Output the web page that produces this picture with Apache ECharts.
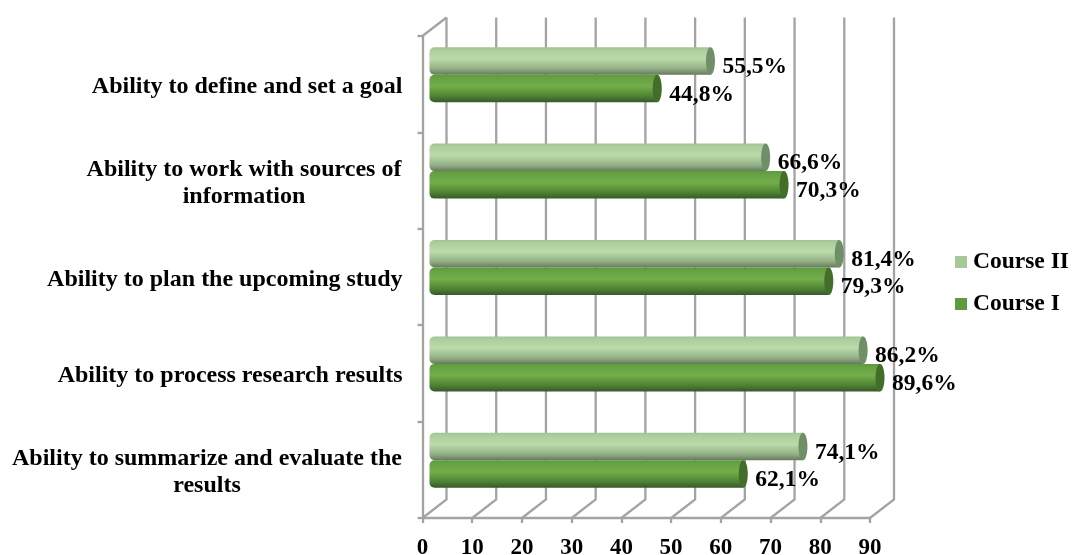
<!DOCTYPE html>
<html><head><meta charset="utf-8">
<style>html,body{margin:0;padding:0;background:#fff}#c{width:1072px;height:555px}</style>
<script src="https://cdn.jsdelivr.net/npm/echarts@6/dist/echarts.min.js"></script>
</head><body><div id="c"></div>
<script>
const categories = [
  "Ability to define and set a goal",
  "Ability to work with sources of\ninformation",
  "Ability to plan the upcoming study",
  "Ability to process research results",
  "Ability to summarize and evaluate the\nresults"
];
const courseII = [55.5, 66.6, 81.4, 86.2, 74.1];
const courseI = [44.8, 70.3, 79.3, 89.6, 62.1];
const xTicks = [0,10,20,30,40,50,60,70,80,90];

const FONT = '"Liberation Serif","Times New Roman",serif';
const DX = 24, DY = 18.5, MIDX = 12, MIDY = 9.5, BARH = 27.5, GRID = '#a3a3a3';
const grad = (a,b,c,d,e) => new echarts.graphic.LinearGradient(0,0,0,1,[
  {offset:0,color:a},{offset:.12,color:b},{offset:.42,color:c},{offset:.78,color:d},{offset:1,color:e}]);

function barSeries(name, values, dir, legendColor, fill, cap) {
  return {
    name, type:'custom', coordinateSystem:'cartesian2d', z:3,
    itemStyle:{color:legendColor},
    encode:{x:0,y:1},
    data: values.map((v,i)=>[v,categories[i]]),
    renderItem(params, api){
      const v = api.value(0);
      const p0 = api.coord([0, api.value(1)]);
      const p = api.coord([v, api.value(1)]);
      const top = dir < 0 ? p[1]-MIDY-BARH : p[1]-MIDY;
      const x0 = p0[0]+MIDX-5, x1 = p[0]+MIDX;
      return {type:'group',children:[
        {type:'rect',shape:{x:x0,y:top,width:x1-x0,height:BARH,r:[5,0,0,5]},style:{fill:fill()}},
        {type:'ellipse',shape:{cx:x1,cy:top+BARH/2,rx:4.5,ry:BARH/2},style:{fill:cap}},
        {type:'text',z2:10,style:{text:v.toFixed(1).replace('.',',')+'%',x:x1+12,y:top+BARH/2+6,
          verticalAlign:'middle',align:'left',fill:'#000',font:'bold 23.5px '+FONT}}
      ]};
    }
  };
}

const wallSeries = {
  name:'walls', type:'custom', coordinateSystem:'cartesian2d', z:1, silent:true,
  encode:{x:0}, data:xTicks.map(t=>[t]),
  renderItem(params, api){
    const cs = params.coordSys, x = api.coord([api.value(0),0])[0];
    const bottom = cs.y+cs.height, topBack = cs.y-DY;
    const children = [{type:'polyline',
      shape:{points:[[x,bottom],[x+DX,bottom-DY],[x+DX,topBack]]},
      style:{stroke:GRID,lineWidth:2.3,fill:null}}];
    if (api.value(0)===0) children.push({type:'line',
      shape:{x1:x,y1:cs.y,x2:x+DX,y2:topBack},style:{stroke:GRID,lineWidth:2.3}});
    return {type:'group',children};
  }
};

const chart = echarts.init(document.getElementById('c'),null,{renderer:'canvas'});
const baseRich = {fontFamily:FONT,fontWeight:'bold',fontSize:24,lineHeight:27,color:'#000'};
chart.setOption({
  animation:false,
  backgroundColor:'#fff',
  textStyle:{fontFamily:FONT},
  grid:{left:422.5,right:202,top:36,bottom:37,containLabel:false,outerBoundsMode:'none'},
  legend:{
    left:950,top:245,orient:'vertical',itemWidth:12,itemHeight:12,itemGap:18,icon:'rect',
    data:['Course II','Course I'],
    textStyle:{fontFamily:FONT,fontWeight:'bold',fontSize:23.5,color:'#000',padding:[0,0,0,1]}
  },
  xAxis:{type:'value',min:0,max:90,interval:10,
    axisLine:{show:true,lineStyle:{color:GRID,width:2.3}},
    axisTick:{show:true,length:5,lineStyle:{color:GRID,width:2.3}},
    splitLine:{show:false},
    axisLabel:{fontFamily:FONT,fontWeight:'bold',fontSize:23,color:'#000',margin:19,
      showMinLabel:true,showMaxLabel:true,hideOverlap:false}
  },
  yAxis:{type:'category',inverse:true,data:categories,
    axisLine:{show:true,lineStyle:{color:GRID,width:2.3}},
    axisTick:{show:true,length:5,alignWithLabel:false,lineStyle:{color:GRID,width:2.3}},
    splitLine:{show:false},
    axisLabel:{margin:20,interval:0,align:'right',verticalAlign:'middle',padding:[5,0,0,0],
      formatter(val){
        const parts = val.split('\n');
        if (parts.length===1) return '{s|'+val+'}';
        const key = parts[0].length>32 ? 'w' : 'n';
        return parts.map(p=>'{'+key+'|'+p+'}').join('\n');
      },
      rich:{
        s:Object.assign({},baseRich),
        n:Object.assign({},baseRich,{width:317,align:'center'}),
        w:Object.assign({},baseRich,{width:391,align:'center'})
      }
    }
  },
  series:[
    wallSeries,
    barSeries('Course II',courseII,-1,'#a6c896',()=>grad('#a3c393','#aecf9d','#bbdba9','#93b085','#66785e'),'#6f8f68'),
    barSeries('Course I',courseI,1,'#5f9a3c',()=>grad('#5f9a3f','#66a243','#72ae4a','#4f8232','#35592a'),'#426d2b')
  ]
});
</script></body></html>
